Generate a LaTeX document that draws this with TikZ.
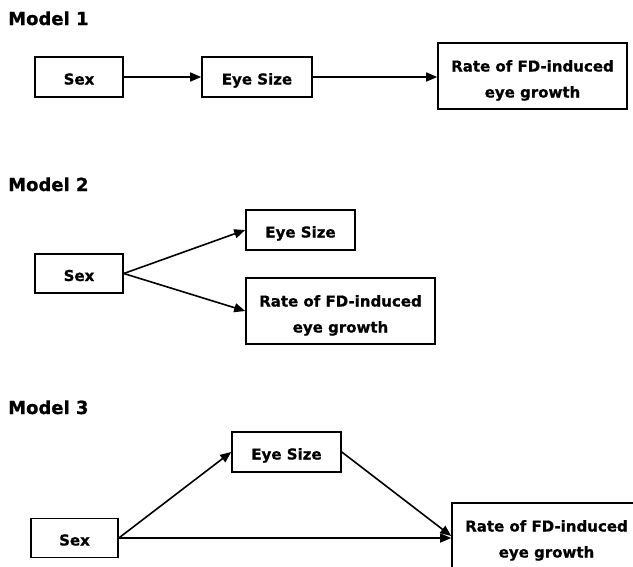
\documentclass[tikz,border=0pt]{standalone}
\usepackage{fontspec}
\setmainfont{DejaVu Sans}[BoldFeatures={FakeBold=0.8}]
\usetikzlibrary{arrows.meta}
\begin{document}
\begin{tikzpicture}[x=1pt,y=-1pt,
  box/.style={draw, line width=1.6pt, inner sep=0pt, align=center,
    text height=15pt, text depth=0pt,
    font=\fontsize{15}{26}\selectfont\bfseries},
  tall/.style={text height=43pt, text depth=0pt},
  title/.style={anchor=base west, inner sep=0pt, font=\fontsize{18}{20}\selectfont\bfseries},
  conn/.style={line width=1.6pt, -{Triangle[length=11pt,width=9pt]}}]
\clip (0,0) rectangle (633,566);
\fill[white] (0,0) rectangle (633,566);
% Model 1
\node[title] (t1) at (8,25) {Model 1};
\node[box, minimum width=88pt, minimum height=40pt] (s1) at (79,77) {Sex};
\node[box, minimum width=110pt, minimum height=40pt] (e1) at (257,77) {Eye Size};
\node[box, tall, minimum width=189pt, minimum height=66pt] (r1) at (532.5,76) {Rate of FD-induced\\eye growth};
\draw[conn] (s1) -- (e1);
\draw[conn] (e1.east) -- (e1.east -| r1.west);
% Model 2
\node[title] (t2) at (8,191) {Model 2};
\node[box, minimum width=109pt, minimum height=40pt] (e2) at (300.5,230) {Eye Size};
\node[box, minimum width=88pt, minimum height=39pt] (s2) at (79,273.5) {Sex};
\node[box, tall, minimum width=189pt, minimum height=66pt] (r2) at (340.5,311) {Rate of FD-induced\\eye growth};
\draw[conn] (s2.east) -- (e2.west);
\draw[conn] (s2.east) -- (r2.west);
% Model 3
\node[title] (t3) at (8,414) {Model 3};
\node[box, minimum width=109pt, minimum height=40pt] (e3) at (286.5,452) {Eye Size};
\node[box, minimum width=87pt, minimum height=39pt] (s3) at (74.5,538) {Sex};
\node[box, tall, minimum width=189pt, minimum height=66pt] (r3) at (546.5,536) {Rate of FD-induced\\eye growth};
\draw[conn] (s3.east) -- (e3.west);
\draw[conn] (e3.east) -- (r3.west);
\draw[conn] (s3.east) -- (s3.east -| r3.west);
\end{tikzpicture}
\end{document}
